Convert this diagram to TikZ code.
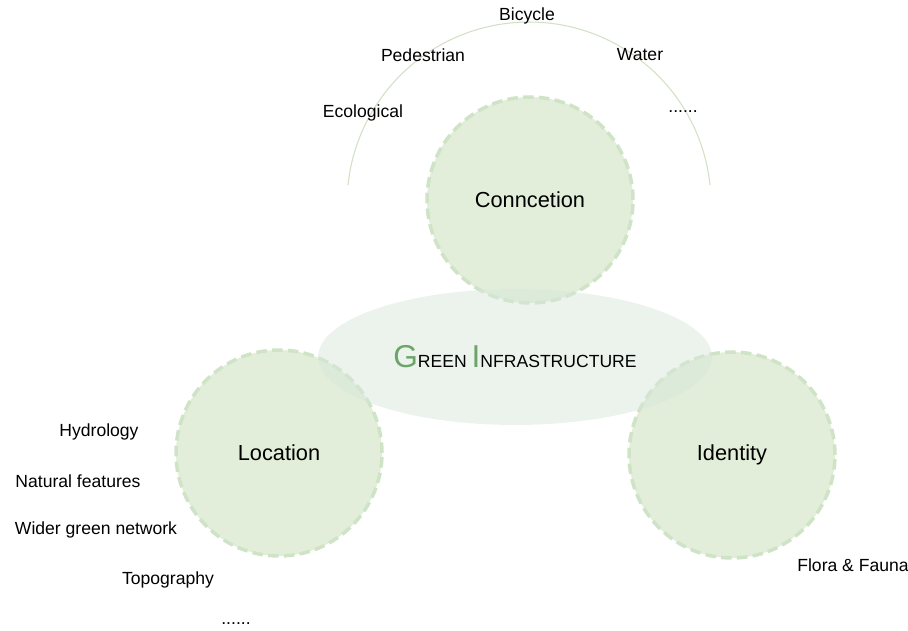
\documentclass[tikz,border=0pt]{standalone}
\usepackage{fontspec}
\setmainfont{Liberation Sans}
\usetikzlibrary{shapes.geometric}
\definecolor{circfill}{HTML}{E2EED9}
\definecolor{circline}{HTML}{CFE3C7}
\definecolor{ellfill}{HTML}{D8E8D9}
\definecolor{arcline}{HTML}{D2E0C6}
\definecolor{gigreen}{HTML}{6DA469}
\begin{document}
\begin{tikzpicture}[x=0.02cm,y=0.02cm,line join=round,
	item/.style={font=\fontsize{10}{12}\selectfont,inner sep=1pt},
	theme/.style={circle,minimum size=4.12cm,fill=circfill,draw=circline,line width=2pt,dash pattern=on 6pt off 3pt,font=\fontsize{12.4}{14}\selectfont},
	core/.style={ellipse,minimum width=7.88cm,minimum height=2.72cm,fill=ellfill,fill opacity=0.5,text opacity=1,inner sep=0pt}]
	\useasboundingbox (0,0) rectangle (908,630);
	% arc of connection types
	\draw[arcline,line width=0.6pt] (710,445) arc[start angle=6,end angle=174,radius=182];
	\node[theme] (con) at (530,430) {Conncetion};
	\node[theme] (loc) at (279,177) {Location};
	\node[theme] (ide) at (732,175) {Identity};
	\node[core] (gi) at (515,273) {{\color{gigreen}\fontsize{18}{18}\selectfont G}{\fontsize{10}{12}\selectfont REEN} {\color{gigreen}\fontsize{18}{18}\selectfont I}{\fontsize{10}{12}\selectfont NFRASTRUCTURE}};
	\node[item] (bic) at (527,614) {Bicycle};
	\node[item] (ped) at (423,575) {Pedestrian};
	\node[item] (wat) at (640,575) {Water};
	\node[item] (eco) at (363,517) {Ecological};
	\node[item] (cmore) at (683,518) {......};
	\node[item] (hyd) at (99,198) {Hydrology};
	\node[item] (nat) at (78,149) {Natural features};
	\node[item] (wid) at (96,100) {Wider green network};
	\node[item] (top) at (168,50) {Topography};
	\node[item] (lmore) at (236,6) {......};
	\node[item] (flo) at (853,65) {Flora \& Fauna};
\end{tikzpicture}
\end{document}
